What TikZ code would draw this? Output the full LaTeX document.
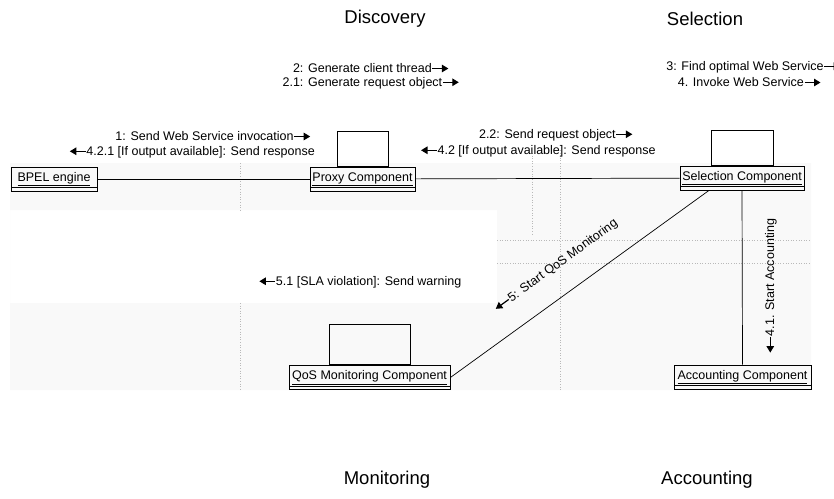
\documentclass[tikz,border=0pt]{standalone}
\usepackage{fontspec}
\setmainfont{Liberation Sans}
\usetikzlibrary{arrows.meta}
\newcommand{\RArr}{\tikz[baseline=-0.6ex]\draw[line width=1.2pt,-{Triangle[length=6.5pt,width=7.5pt]}] (0pt,0pt)--(16pt,0pt);}
\newcommand{\LArr}{\tikz[baseline=-0.6ex]\draw[line width=1.2pt,{Triangle[length=6.5pt,width=7.5pt]}-] (0pt,0pt)--(16pt,0pt);}
\begin{document}
\begin{tikzpicture}[x=1pt,y=-1pt,
  comp/.style={draw, line width=0.8pt, minimum height=24pt, inner sep=0pt,
    font=\fontsize{12.5}{14}\selectfont,
    path picture={\draw[line width=0.6pt] ([yshift=3.5pt]path picture bounding box.south west) -- ([yshift=3.5pt]path picture bounding box.south east);}},
  topbox/.style={draw, line width=0.8pt, inner sep=0pt, anchor=south},
  lbl/.style={font=\fontsize{12.5}{14}\selectfont, inner sep=0pt},
  ttl/.style={font=\fontsize{18.5}{21}\selectfont, inner sep=0pt},
  conn/.style={line width=0.7pt},
  sepline/.style={gray!55, dotted, line width=0.6pt}]
\useasboundingbox (0,0) rectangle (834,498);
% faint scanned background and lane separators
\fill[black!2.5, even odd rule] (10,163) rectangle (811,390) (10,210) rectangle (497,303);
\draw[sepline] (240,163) -- (240,210);
\draw[sepline] (240,303) -- (240,390);
\draw[sepline] (532,153) -- (532,235);
\draw[sepline] (560,150) -- (560,390);
\draw[sepline] (497,240) -- (811,240);
\draw[sepline] (497,263) -- (811,263);
% titles
\node[ttl] (tdisc) at (385,19) {Discovery};
\node[ttl] (tsel) at (705,19) {Selection};
\node[ttl] (tmon) at (387,480) {Monitoring};
\node[ttl] (tacc) at (707,480) {Accounting};
% components
\node[comp, minimum width=86pt] (bpel) at (54,179) {\underline{BPEL engine}};
\node[comp, minimum width=105pt] (proxy) at (362.5,179) {\underline{Proxy Component}};
\node[comp, minimum width=124pt] (sel) at (742,178) {\underline{Selection Component}};
\node[comp, minimum width=161pt] (qos) at (369.5,377.5) {\underline{QoS Monitoring Component}};
\node[comp, minimum width=137pt] (acc) at (742.5,377) {\underline{Accounting Component}};
\node[topbox, minimum width=51pt, minimum height=35pt] (proxytop) at (proxy.north) {};
\node[topbox, minimum width=62pt, minimum height=35pt] (seltop) at (sel.north) {};
\node[topbox, minimum width=81pt, minimum height=40pt] (qostop) at (qos.north) {};
% connectors
\draw[conn] (bpel) -- (proxy);
\draw[conn] (proxy) -- (sel);
\draw[conn] (sel.south) -- (acc.north);
\coordinate (selfoot) at ([xshift=-33pt]sel.south);
\draw[conn] (selfoot) -- (qos.east);
% message labels
\node[lbl] (m2) at (371,68) {2: Generate client thread\RArr};
\node[lbl] (m21) at (371,83) {2.1: Generate request object\RArr};
\node[lbl, anchor=east] (m3) at (841,67) {3: Find optimal Web Service\RArr};
\node[lbl] (m4) at (749.5,82) {4. Invoke Web Service\RArr};
\node[lbl, anchor=east] (m1) at (311,136) {1: Send Web Service invocation\RArr};
\node[lbl, anchor=east] (m421) at (315,152) {\LArr4.2.1 [If output available]: Send response};
\node[lbl] (m22) at (556,135) {2.2: Send request object\RArr};
\node[lbl] (m42) at (538,151) {\LArr4.2 [If output available]: Send response};
\node[lbl] (m51) at (360,282) {\LArr5.1 [SLA violation]: Send warning};
\node[lbl, rotate=36] (m5) at (556,266) {\LArr5: Start QoS Monitoring};
\node[lbl, rotate=90] (m41) at (771,286) {\LArr4.1. Start Accounting};
\end{tikzpicture}
\end{document}
